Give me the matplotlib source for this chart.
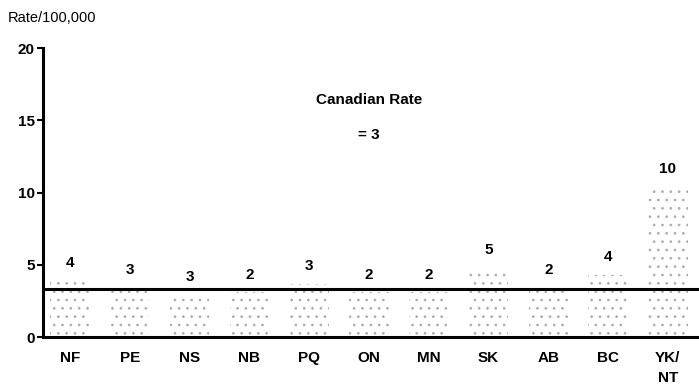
import matplotlib
matplotlib.use("Agg")
import matplotlib.pyplot as plt
import numpy as np

plt.rcParams['font.family'] = ['Liberation Sans', 'DejaVu Sans']
plt.rcParams['hatch.linewidth'] = 0.7

provinces = ["NF", "PE", "NS", "NB", "PQ", "ON", "MN", "SK", "AB", "BC", "YK/\nNT"]
rate_labels = [4, 3, 3, 2, 3, 2, 2, 5, 2, 4, 10]
bar_heights = [3.9, 3.4, 2.9, 3.1, 3.7, 3.1, 3.1, 4.8, 3.4, 4.3, 10.4]
canadian_rate = 3
canadian_line = 3.3
yticks = [0, 5, 10, 15, 20]

fig = plt.figure(figsize=(6.99, 3.88), dpi=100)
ax = fig.add_axes([0.0615, 0.131, 0.9385, 0.745])

x = np.arange(len(provinces))
ax.bar(x, bar_heights, width=0.66, color='white', edgecolor='#ababab', hatch='..', linewidth=0)

for xi, h, lab in zip(x, bar_heights, rate_labels):
    ax.text(xi, h + 0.75, str(lab), ha='center', va='bottom', fontsize=11, fontweight='bold')

ax.axhline(canadian_line, color='black', lw=2.2, zorder=3)

ax.text(5.0, 16.4, "Canadian Rate", ha='center', va='center', fontsize=11, fontweight='semibold')
ax.text(5.0, 14.0, "= %d" % canadian_rate, ha='center', va='center', fontsize=11, fontweight='bold')

ax.set_xlim(-0.45, 10.52)
ax.set_ylim(0, 20)
ax.set_yticks(yticks)
ax.set_yticklabels([str(v) for v in yticks], fontsize=11, fontweight='bold')
ax.set_xticks(x)
ax.set_xticklabels(provinces, fontsize=11, va='top', fontweight='bold', linespacing=1.5)
ax.tick_params(axis='x', length=0, pad=10)
ax.tick_params(axis='y', length=4, width=1.5, pad=2)

for s in ['top', 'right']:
    ax.spines[s].set_visible(False)
ax.spines['left'].set_linewidth(2.2)
ax.spines['bottom'].set_linewidth(2.2)

fig.text(8/699, 1 - 18/388, "Rate/100,000", ha='left', va='center', fontsize=10.5, fontweight='medium')

fig.savefig("out.png", dpi=100)
